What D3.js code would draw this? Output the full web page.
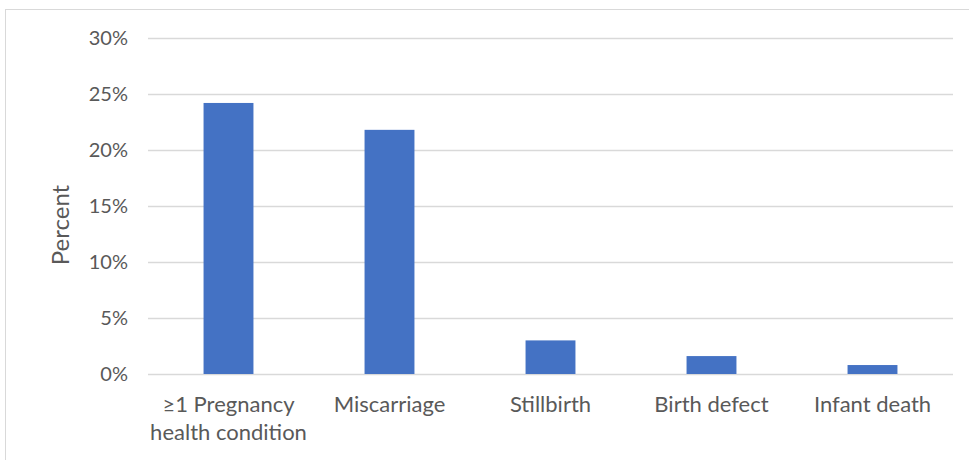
<!DOCTYPE html>
<html><head><meta charset="utf-8">
<script src="https://cdn.jsdelivr.net/npm/d3@7"></script>
<style>body{margin:0;background:#fff;} svg{display:block;}</style>
</head><body>
<svg id="chart" width="969" height="460"></svg>
<script>
const categories = [["≥1 Pregnancy","health condition"],["Miscarriage"],["Stillbirth"],["Birth defect"],["Infant death"]];
const values = [24.2, 21.8, 3.0, 1.6, 0.8];
const yTicks = [0,5,10,15,20,25,30];
const yTitle = "Percent";

const svg = d3.select("#chart");
const font = "Lato, 'Open Sans', sans-serif";
const textColor = "#595959";
const m = {left:148, right:953, top:38, bottom:374};

// frame
svg.append("rect").attr("x",5.5).attr("y",9.5).attr("width",1000).attr("height",500)
  .attr("fill","none").attr("stroke","#d9d9d9").attr("stroke-width",1);

const x = d3.scaleBand().domain(d3.range(categories.length)).range([m.left,m.right]).paddingInner(0.69).paddingOuter(0.345);
const y = d3.scaleLinear().domain([0,30]).range([m.bottom,m.top]);

const yAxis = d3.axisLeft(y).tickValues(yTicks).tickFormat(d=>d+"%").tickSize(-(m.right-m.left)).tickPadding(20);
const gy = svg.append("g").attr("transform",`translate(${m.left},0)`).call(yAxis);
gy.select(".domain").remove();
gy.selectAll(".tick line").attr("stroke","#d9d9d9").attr("stroke-width",1.5);
gy.selectAll(".tick text").attr("fill",textColor).attr("font-family",font).attr("font-size",20);

svg.append("g").selectAll("rect").data(values).join("rect")
  .attr("x",(d,i)=>x(i)).attr("width",x.bandwidth())
  .attr("y",d=>y(d)).attr("height",d=>y(0)-y(d))
  .attr("fill","#4472C4");

const xl = svg.append("g");
categories.forEach((lines,i)=>{
  const t = xl.append("text").attr("text-anchor","middle").attr("fill",textColor)
    .attr("font-family",font).attr("font-size",22);
  lines.forEach((ln,j)=>{
    t.append("tspan").attr("x",x(i)+x.bandwidth()/2).attr("y",412+j*28).text(ln);
  });
});

svg.append("text").attr("transform","translate(69,225) rotate(-90)")
  .attr("text-anchor","middle").attr("fill",textColor)
  .attr("font-family",font).attr("font-size",24).text(yTitle);
</script>
</body></html>
